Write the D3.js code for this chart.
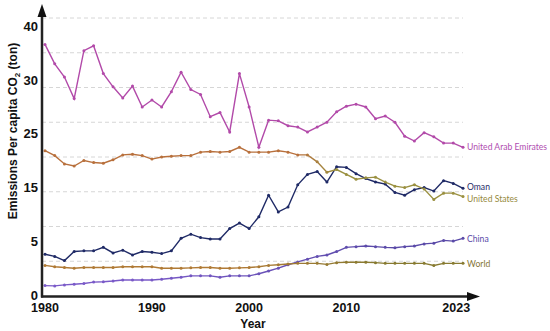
<!DOCTYPE html>
<html>
<head>
<meta charset="utf-8">
<script src="https://cdn.jsdelivr.net/npm/d3@7"></script>
<style>
  body { margin: 0; background: #fff; }
  text { font-family: "Liberation Sans", Arial, sans-serif; }
</style>
</head>
<body>
<script>
const w = 550;
const h = 331;

// data (tons CO2 per capita)
const years = [1980,1981,1982,1983,1984,1985,1986,1987,1988,1989,
               1990,1991,1992,1993,1994,1995,1996,1997,1998,1999,
               2000,2001,2002,2003,2004,2005,2006,2007,2008,2009,
               2010,2011,2012,2013,2014,2015,2016,2017,2018,2019,
               2020,2021,2022,2023];
const uae = [36.2,33.4,31.5,28.4,35.3,36.0,32.0,30.1,28.5,30.2,
             27.2,28.2,27.2,29.4,32.2,29.7,29.0,25.8,26.4,23.6,
             32.0,27.2,21.4,25.3,25.2,24.5,24.3,23.6,24.3,25.0,
             26.5,27.3,27.6,27.2,25.5,25.9,25.0,23.0,22.3,23.5,
             22.9,22.0,22.0,21.4];
const usa = [20.9,20.2,19.0,18.7,19.5,19.2,19.1,19.6,20.3,20.4,
             20.2,19.7,20.0,20.1,20.2,20.2,20.7,20.8,20.7,20.8,
             21.4,20.7,20.7,20.7,20.9,20.7,20.3,20.3,19.3,17.8,
             18.2,17.5,16.8,17.0,17.1,16.4,15.8,15.6,16.0,15.4,
             13.9,14.8,14.8,14.3];
const oman = [6.0,5.7,5.1,6.4,6.5,6.5,7.0,6.2,6.6,5.9,
              6.4,6.3,6.1,6.5,8.3,8.9,8.4,8.2,8.2,9.7,
              10.5,9.7,11.4,14.5,12.1,12.8,16.0,17.5,17.9,16.4,
              18.6,18.5,17.6,16.9,16.4,16.1,14.9,14.5,15.3,15.6,
              15.1,16.6,16.2,15.5];
const china = [1.5,1.45,1.6,1.7,1.8,2.0,2.05,2.15,2.3,2.3,
               2.3,2.3,2.4,2.55,2.7,2.9,2.9,2.9,2.7,2.9,
               2.9,2.9,3.2,3.6,4.0,4.5,4.9,5.3,5.7,5.9,
               6.4,7.0,7.1,7.2,7.1,7.0,6.95,7.1,7.2,7.5,
               7.6,8.0,7.9,8.3];
const world = [4.4,4.2,4.1,4.0,4.1,4.1,4.1,4.1,4.2,4.2,
               4.2,4.2,4.0,4.0,4.0,4.05,4.1,4.1,4.0,4.0,
               4.05,4.1,4.2,4.4,4.5,4.6,4.7,4.7,4.7,4.55,
               4.8,4.85,4.85,4.85,4.8,4.7,4.7,4.7,4.7,4.7,
               4.4,4.7,4.7,4.7];

// tick labels as printed on the figure (they sit a little off the data grid)
const yTickLabels = ["0","5","15","25","30","40"];
const xTickLabels = ["1980","1990","2000","2010","2023"];
const xTickAt = [1980, 1991, 2001, 2011, 2022.3];
const gridValues = [5,10,15,20,25,30,35,40];

const series = [
  {name: "United Arab Emirates", values: uae, color: "#b24aa9", label: "#b04db0", dy: 0},
  {name: "Oman", values: oman, color: "#1f2a66", label: "#1f2a66", dy: -1},
  {name: "United States", values: usa, color: "url(#gUS)", label: "#958a40", dy: 2},
  {name: "China", values: china, color: "url(#gCN)", label: "#5a4aa8", dy: 0.5},
  {name: "World", values: world, color: "url(#gW)", label: "#857535", dy: 1}
];

const x = d3.scaleLinear().domain([1980, 2023]).range([45, 463]);
const y = d3.scaleLinear().domain([0, 40]).range([296, 18]);
const yLab = d3.scalePoint().domain(yTickLabels).range([y(0) - 1, y(38.8)]);

const svg = d3.select("body")
              .append("svg")
              .attr("width", w)
              .attr("height", h);

const defs = svg.append("defs");
function grad(id, a, b, y0, y1) {
  const g = defs.append("linearGradient")
    .attr("id", id).attr("gradientUnits", "userSpaceOnUse")
    .attr("x1", x(y0)).attr("x2", x(y1)).attr("y1", 0).attr("y2", 0);
  g.append("stop").attr("offset", 0).attr("stop-color", a);
  g.append("stop").attr("offset", 1).attr("stop-color", b);
}
grad("gUS", "#b8703c", "#9a9040", 2006, 2010);
grad("gW", "#b07a35", "#877a30", 2000, 2014);
grad("gCN", "#7a5ac8", "#5a4aa8", 1990, 2015);

// dashed gridlines
svg.append("g")
  .selectAll("line")
  .data(gridValues)
  .join("line")
    .attr("x1", 42).attr("x2", x(2023))
    .attr("y1", d => y(d)).attr("y2", d => y(d))
    .attr("stroke", "#d6d6d6")
    .attr("stroke-width", 1)
    .attr("stroke-dasharray", "4,3");

// lines + dots
const line = d3.line()
  .x((d, i) => x(years[i]))
  .y(d => y(d));

series.forEach(s => {
  svg.append("path")
    .datum(s.values)
    .attr("fill", "none")
    .attr("stroke", s.color)
    .attr("stroke-width", 1.4)
    .attr("d", line);
  svg.append("g")
    .selectAll("circle")
    .data(s.values)
    .join("circle")
      .attr("cx", (d, i) => x(years[i]))
      .attr("cy", d => y(d))
      .attr("r", 1.5)
      .attr("fill", s.color);
  svg.append("text")
    .attr("x", x(2023) + 4)
    .attr("y", y(s.values[s.values.length - 1]) + s.dy)
    .attr("dy", "0.35em")
    .attr("fill", s.label)
    .style("font-family", "Lato, sans-serif")
    .style("font-size", "8.6px")
    .text(s.name);
});

// axes with arrows
svg.append("line")
  .attr("x1", 42).attr("x2", 42).attr("y1", 297.5).attr("y2", 16)
  .attr("stroke", "#222").attr("stroke-width", 2.5);
svg.append("line")
  .attr("x1", 41).attr("x2", 470).attr("y1", 296.5).attr("y2", 296.5)
  .attr("stroke", "#222").attr("stroke-width", 2.5);
svg.append("path")
  .attr("d", "M42,4 L37.5,17 L46.5,17 Z")
  .attr("fill", "#111");
svg.append("path")
  .attr("d", "M480,296.5 L467,292 L467,301 Z")
  .attr("fill", "#111");

// y tick labels
svg.append("g")
  .selectAll("text")
  .data(yTickLabels)
  .join("text")
    .attr("x", 38)
    .attr("y", d => yLab(d))
    .attr("dy", "0.35em")
    .attr("text-anchor", "end")
    .style("font-size", "13px")
    .style("font-weight", "bold")
    .attr("fill", "#111")
    .text(d => d);

// x tick labels
svg.append("g")
  .selectAll("text")
  .data(xTickLabels)
  .join("text")
    .attr("x", (d, i) => x(xTickAt[i]))
    .attr("y", 312)
    .attr("text-anchor", "middle")
    .style("font-size", "12.5px")
    .style("font-weight", "bold")
    .attr("fill", "#111")
    .text(d => d);

// axis titles
svg.append("text")
  .attr("x", 253).attr("y", 328)
  .attr("text-anchor", "middle")
  .style("font-size", "12px")
  .style("font-weight", "bold")
  .attr("fill", "#111")
  .text("Year");

const yt = svg.append("text")
  .attr("transform", "translate(17,131) rotate(-90)")
  .attr("text-anchor", "middle")
  .style("font-size", "12px")
  .style("font-weight", "bold")
  .attr("fill", "#111");
yt.append("tspan").text("Emissions Per capita CO");
yt.append("tspan").attr("dy", 3).style("font-size", "8px").text("2");
yt.append("tspan").attr("dy", -3).text(" (ton)");
</script>
</body>
</html>
